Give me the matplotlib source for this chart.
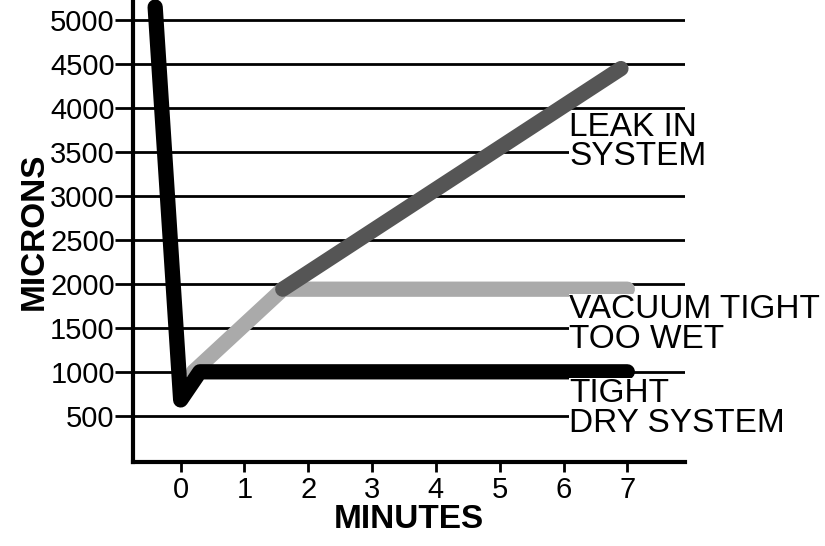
import matplotlib
matplotlib.use('Agg')
from matplotlib import pyplot as plt

plt.rcParams['font.family'] = ['Liberation Sans', 'DejaVu Sans']

# series
tight_x = [-0.4, 0.0, 0.3, 7.0]
tight_y = [5150, 680, 1000, 1000]
wet_x = [0.2, 1.6, 7.0]
wet_y = [1000, 1940, 1940]
leak_x = [1.6, 6.9]
leak_y = [1940, 4450]
yticks = [500, 1000, 1500, 2000, 2500, 3000, 3500, 4000, 4500, 5000]
xticks = [0, 1, 2, 3, 4, 5, 6, 7]

fig = plt.figure(figsize=(8.25, 5.46), dpi=100)
ax = fig.add_axes([0.161, 0.154, 0.669, 0.846])

for v in yticks:
    ax.axhline(v, color='black', lw=2, zorder=1)

ax.plot(wet_x, wet_y, color='#aaaaaa', lw=11, solid_capstyle='round', zorder=2)
ax.plot(leak_x, leak_y, color='#555555', lw=11, solid_capstyle='round', zorder=3)
ax.plot(tight_x, tight_y, color='black', lw=11, solid_capstyle='round',
        solid_joinstyle='round', zorder=4)

tk = dict(fontsize=24, va='top', ha='left', linespacing=0.95, zorder=5,
          bbox=dict(facecolor='white', edgecolor='none', pad=0))
ax.text(6.09, 3960, 'LEAK IN\nSYSTEM', **tk)
ax.text(6.09, 1880, 'VACUUM TIGHT\nTOO WET', **tk)
ax.text(6.09, 930, 'TIGHT\nDRY SYSTEM', **tk)

ax.set_xlim(-0.75, 7.9)
ax.set_ylim(-25, 5230)
ax.set_xticks(xticks)
ax.set_yticks(yticks)
ax.tick_params(axis='y', length=13, width=2, labelsize=21, pad=0)
ax.tick_params(axis='x', length=7, width=2, labelsize=21, pad=3)

for s in ['top', 'right']:
    ax.spines[s].set_visible(False)
ax.spines['left'].set_linewidth(3)
ax.spines['bottom'].set_linewidth(3)

ax.set_xlabel('MINUTES', fontsize=24, fontweight='bold', labelpad=0)
ax.set_ylabel('MICRONS', fontsize=24, fontweight='bold', labelpad=0)

fig.savefig('out.png', dpi=100)
